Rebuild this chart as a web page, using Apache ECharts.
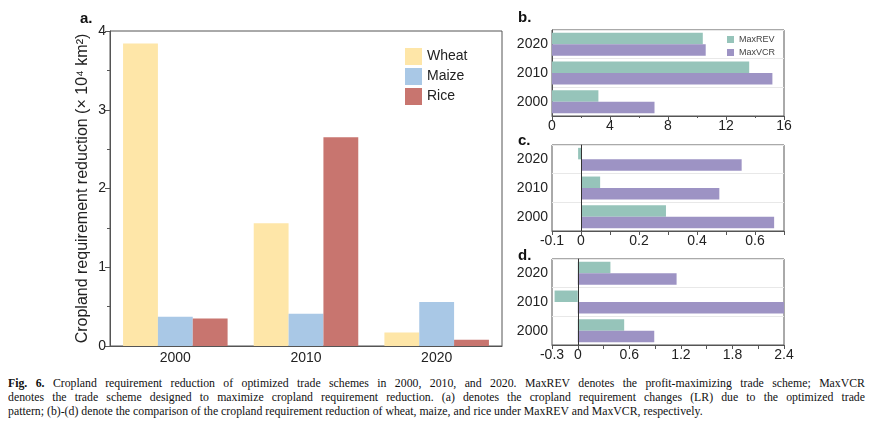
<!DOCTYPE html>
<html>
<head>
<meta charset="utf-8">
<script src="https://cdn.jsdelivr.net/npm/echarts@6/dist/echarts.min.js"></script>
<style>
    html, body {
        margin: 0;
        padding: 0;
        background: #fff;
    }

    #main {
        width: 873px;
        height: 372px;
    }

    /* 图注 */
    .caption {
        position: absolute;
        left: 8px;
        top: 376px;
        font-family: "Liberation Serif", serif;
        font-size: 11.5px;
        line-height: 14px;
        color: #111;
        transform-origin: 0 0;
    }

    .caption div {
        text-align: justify;
        text-align-last: justify;
        white-space: nowrap;
    }

    .caption div.last {
        text-align-last: left;
    }
</style>
</head>
<body>
<div id="main"></div>
<div class="caption" id="caption">
    <div><b>Fig. 6.</b> Cropland requirement reduction of optimized trade schemes in 2000, 2010, and 2020. MaxREV denotes the profit-maximizing trade scheme; MaxVCR</div>
    <div>denotes the trade scheme designed to maximize cropland requirement reduction. (a) denotes the cropland requirement changes (LR) due to the optimized trade</div>
    <div class="last"><span id="lastLine">pattern; (b)-(d) denote the comparison of the cropland requirement reduction of wheat, maize, and rice under MaxREV and MaxVCR, respectively.</span></div>
</div>
<script>
    // 数据
    var years = ['2000', '2010', '2020'];
    var wheat = [3.84, 1.56, 0.17];
    var maize = [0.37, 0.41, 0.56];
    var rice = [0.35, 2.65, 0.08];

    // b. 小麦  c. 玉米  d. 水稻
    var wheatRev = [3.2, 13.6, 10.4];
    var wheatVcr = [7.07, 15.2, 10.6];
    var maizeRev = [0.293, 0.066, -0.01];
    var maizeVcr = [0.666, 0.477, 0.554];
    var riceRev = [0.54, -0.27, 0.38];
    var riceVcr = [0.89, 2.4, 1.15];

    var font = 'Liberation Sans';
    var axisColor = '#555';
    var textColor = '#222';

    // 图注压缩到原图宽度（末行约 695px）
    var cap = document.getElementById('caption');
    var scale = 695 / document.getElementById('lastLine').offsetWidth;
    cap.style.width = (857 / scale) + 'px';
    cap.style.transform = 'scaleX(' + scale + ')';

    var myChart = echarts.init(document.getElementById('main'));

    function smallGrid(top) {
        return {left: 552, top: top, width: 232, height: 86, show: true, borderColor: axisColor, borderWidth: 1};
    }

    function catAxis(idx) {
        return {
            type: 'category',
            gridIndex: idx,
            data: years,
            axisLine: {lineStyle: {color: axisColor}},
            axisTick: {show: false},
            axisLabel: {fontFamily: font, fontSize: 14, color: textColor, margin: 4},
            splitLine: {show: true, lineStyle: {color: '#e8e8e8'}}
        };
    }

    function valAxis(idx, min, max, interval, fmt) {
        return {
            type: 'value',
            gridIndex: idx,
            min: min,
            max: max,
            interval: interval,
            axisLine: {show: true, lineStyle: {color: axisColor}},
            axisTick: {show: true, length: 4, lineStyle: {color: axisColor}},
            minorTick: {show: interval === 4, splitNumber: 2, length: 2, lineStyle: {color: axisColor}},
            splitLine: {show: false},
            axisLabel: {fontFamily: font, fontSize: 14, color: textColor, margin: 3, formatter: fmt}
        };
    }

    var zeroLine = {
        silent: true,
        symbol: 'none',
        label: {show: false},
        lineStyle: {color: '#333', type: 'solid', width: 1},
        data: [{xAxis: 0}]
    };

    function pair(idx, rev, vcr, withZero) {
        var s1 = {
            name: 'MaxREV', type: 'bar', xAxisIndex: idx, yAxisIndex: idx,
            data: rev, barGap: 0, barCategoryGap: '20%',
            itemStyle: {color: '#96c4ba'}
        };
        var s2 = {
            name: 'MaxVCR', type: 'bar', xAxisIndex: idx, yAxisIndex: idx,
            data: vcr, barGap: 0, barCategoryGap: '20%',
            itemStyle: {color: '#9d93c4'}
        };
        if (withZero) {
            s1.markLine = zeroLine;
        }
        return [s1, s2];
    }

    var option = {
        animation: false,
        textStyle: {fontFamily: font},
        title: [
            {text: 'a.', left: 75, top: 6, textStyle: {fontSize: 15, fontWeight: 'bold', color: '#111'}},
            {text: 'b.', left: 513, top: 5, textStyle: {fontSize: 15, fontWeight: 'bold', color: '#111'}},
            {text: 'c.', left: 513, top: 128, textStyle: {fontSize: 15, fontWeight: 'bold', color: '#111'}},
            {text: 'd.', left: 513, top: 243, textStyle: {fontSize: 15, fontWeight: 'bold', color: '#111'}}
        ],
        legend: [
            {
                data: ['Wheat', 'Maize', 'Rice'],
                orient: 'vertical',
                left: 405, top: 48,
                padding: 0,
                itemWidth: 17, itemHeight: 17, itemGap: 3,
                icon: 'rect',
                textStyle: {fontSize: 14, color: textColor}
            },
            {
                data: ['MaxREV', 'MaxVCR'],
                orient: 'vertical',
                left: 727, top: 35,
                padding: 0,
                itemWidth: 7, itemHeight: 7, itemGap: 4,
                icon: 'rect',
                textStyle: {fontSize: 9, color: '#444'}
            }
        ],
        grid: [
            {left: 110, top: 31, width: 392, height: 315, show: true, borderColor: axisColor, borderWidth: 1},
            smallGrid(30),
            smallGrid(145),
            smallGrid(259)
        ],
        xAxis: [
            {
                type: 'category',
                gridIndex: 0,
                data: years,
                axisLine: {lineStyle: {color: axisColor}},
                axisTick: {show: false},
                axisLabel: {fontSize: 14, color: textColor, margin: 5}
            },
            valAxis(1, 0, 16, 4),
            valAxis(2, -0.1, 0.7, 0.1, function (v) {
                var k = Math.round(v * 10);
                return (k === -1 || k % 2 === 0) && k !== 8 ? String(k / 10) : '';
            }),
            valAxis(3, -0.3, 2.4, 0.3, function (v) {
                var k = Math.round(v * 10);
                return (k === -3 || k % 6 === 0) ? String(k / 10) : '';
            })
        ],
        yAxis: [
            {
                type: 'value',
                gridIndex: 0,
                min: 0, max: 4, interval: 1,
                name: 'Cropland requirement reduction (× 10⁴ km²)',
                nameLocation: 'middle',
                nameGap: 19,
                nameTextStyle: {fontSize: 16, color: textColor},
                axisLine: {show: true, lineStyle: {color: axisColor}},
                axisTick: {show: true, length: 5, lineStyle: {color: axisColor}},
                minorTick: {show: true, splitNumber: 2, length: 3, lineStyle: {color: axisColor}},
                splitLine: {show: false},
                axisLabel: {fontSize: 14, color: textColor, margin: 4}
            },
            catAxis(1),
            catAxis(2),
            catAxis(3)
        ],
        series: [
            {name: 'Wheat', type: 'bar', data: wheat, barGap: 0, barCategoryGap: '20%', itemStyle: {color: '#fee6a8'}},
            {name: 'Maize', type: 'bar', data: maize, barGap: 0, barCategoryGap: '20%', itemStyle: {color: '#a9c8e6'}},
            {name: 'Rice', type: 'bar', data: rice, barGap: 0, barCategoryGap: '20%', itemStyle: {color: '#c8756f'}}
        ].concat(pair(1, wheatRev, wheatVcr, false))
         .concat(pair(2, maizeRev, maizeVcr, true))
         .concat(pair(3, riceRev, riceVcr, true))
    };

    myChart.setOption(option);
</script>
</body>
</html>
